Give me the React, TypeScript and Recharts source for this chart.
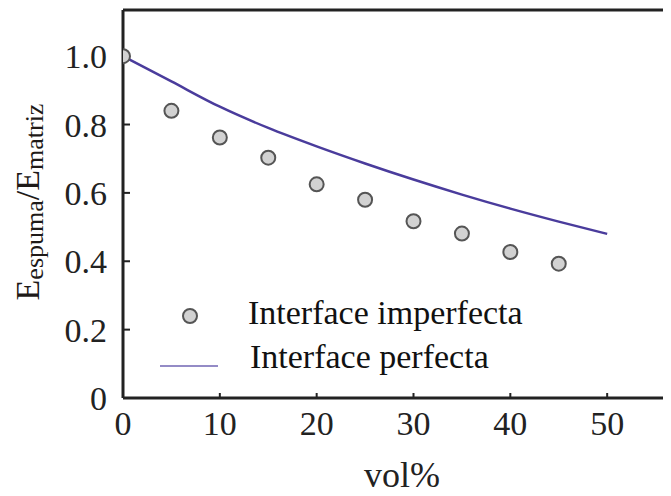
import React from 'react';
import { ComposedChart, Line, Scatter, XAxis, YAxis, ReferenceLine, Legend } from 'recharts';

// ---- data ----
const imperfectaX = [0, 5, 10, 15, 20, 25, 30, 35, 40, 45];
const imperfectaY = [1.0, 0.84, 0.762, 0.703, 0.625, 0.58, 0.517, 0.481, 0.427, 0.393];
const perfectaX = [0, 5, 10, 15, 20, 25, 30, 35, 40, 45, 50];
const perfectaY = [1.0, 0.926, 0.852, 0.79, 0.736, 0.686, 0.639, 0.595, 0.554, 0.516, 0.48];
const xTicks = [0, 10, 20, 30, 40, 50];
const yTicks = [0, 0.2, 0.4, 0.6, 0.8, 1.0];
const X_DOMAIN: [number, number] = [0, 60];
const Y_DOMAIN: [number, number] = [0, 1.135];
const seriesNames = ['Interface imperfecta', 'Interface perfecta'];

const imperfectaData = imperfectaX.map((x, i) => ({ x, y: imperfectaY[i] }));
const perfectaData = perfectaX.map((x, i) => ({ x, y: perfectaY[i] }));

const FONT = '"Liberation Serif", "Times New Roman", serif';
const INK = '#222';
const LINE_COLOR = '#4a3c9c';

const Dot = (props: any) => {
  const { cx, cy } = props;
  if (cx == null || cy == null) return null;
  return <circle cx={cx} cy={cy} r={7} fill="#d2d2d2" stroke="#555" strokeWidth={2} />;
};

const LegendContent = () => (
  <svg width={560} height={390} style={{ display: 'block', overflow: 'visible' }}>
    <circle cx={190} cy={316} r={7} fill="#d2d2d2" stroke="#555" strokeWidth={2} />
    <text x={248} y={324} fontSize={34} fontFamily={FONT} fill="#111">{seriesNames[0]}</text>
    <line x1={160} x2={218} y1={366} y2={366} stroke="#948bc6" strokeWidth={2} />
    <text x={250} y={368} fontSize={34} fontFamily={FONT} fill="#111">{seriesNames[1]}</text>
  </svg>
);

const YLabel = () => (
  <text
    x={39}
    y={202}
    transform="rotate(-90, 39, 202)"
    textAnchor="middle"
    fontFamily={FONT}
    fill="#1e1a18"
    fontSize={34}
  >
    <tspan>E</tspan>
    <tspan fontSize={26} dy={4}>espuma</tspan>
    <tspan dy={-4}>/E</tspan>
    <tspan fontSize={26} dy={4}>matriz</tspan>
  </text>
);

const XLabel = () => (
  <text x={402} y={487} textAnchor="middle" fontFamily={FONT} fontSize={36} fill="#222">
    vol%
  </text>
);

export default function App() {
  return (
    <div style={{ margin: -8, width: 671, height: 496, overflow: 'hidden', position: 'relative', background: '#fff' }}>
      <ComposedChart width={720} height={496} margin={{ top: 10, right: 16, bottom: 0, left: 0 }}>
        <XAxis
          type="number"
          dataKey="x"
          domain={X_DOMAIN}
          ticks={xTicks}
          allowDataOverflow
          height={98}
          axisLine={{ stroke: INK, strokeWidth: 3 }}
          tickLine={{ stroke: INK, strokeWidth: 2 }}
          tickSize={-5}
          tickMargin={18}
          tick={{ fill: '#222', fontSize: 34, fontFamily: FONT }}
          interval={0}
          label={<XLabel />}
        />
        <YAxis
          type="number"
          dataKey="y"
          domain={Y_DOMAIN}
          ticks={yTicks}
          allowDataOverflow
          width={123}
          axisLine={{ stroke: INK, strokeWidth: 3 }}
          tickLine={{ stroke: INK, strokeWidth: 2 }}
          tickSize={-7}
          tickMargin={23}
          tickFormatter={(v: number) => (v === 0 ? '0' : v.toFixed(1))}
          tick={{ fill: '#222', fontSize: 34, fontFamily: FONT }}
          interval={0}
          label={<YLabel />}
        />
        <ReferenceLine y={Y_DOMAIN[1]} stroke={INK} strokeWidth={3} ifOverflow="extendDomain" />
        <Line
          data={perfectaData}
          dataKey="y"
          type="monotone"
          stroke={LINE_COLOR}
          strokeWidth={2.5}
          dot={false}
          activeDot={false}
          isAnimationActive={false}
          name={seriesNames[1]}
        />
        <Scatter
          data={imperfectaData}
          dataKey="y"
          shape={<Dot />}
          isAnimationActive={false}
          name={seriesNames[0]}
        />
        <Legend
          layout="horizontal"
          verticalAlign="middle"
          align="center"
          wrapperStyle={{ position: 'absolute', top: 0, left: 0, width: 560, height: 390 }}
          content={<LegendContent />}
        />
      </ComposedChart>
    </div>
  );
}
